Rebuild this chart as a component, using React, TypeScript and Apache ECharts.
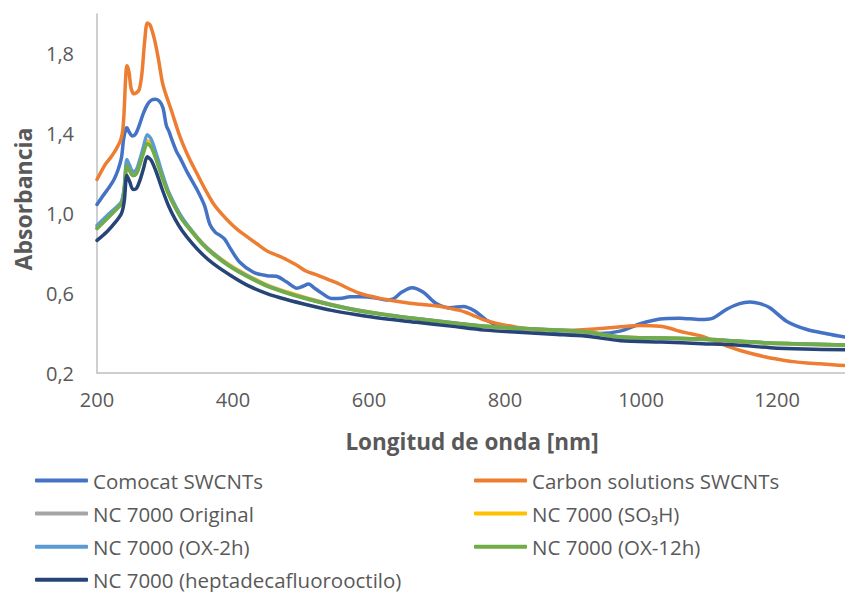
import React, { useEffect, useRef } from "react";
import * as echarts from "echarts";

const comocatNm = [200, 208, 217, 225, 231, 236, 239, 242, 244, 247, 252, 257, 262, 268, 274, 280, 286, 292, 297, 302, 306, 310, 317, 322, 332, 347, 358, 366, 374, 381, 388, 396, 410, 430, 450, 464, 479, 494, 503, 511, 520, 528, 545, 560, 572, 590, 610, 625, 635, 648, 663, 680, 699, 719, 739, 755, 773, 793, 817, 841, 891, 940, 969, 999, 1028, 1057, 1087, 1105, 1126, 1145, 1160, 1175, 1190, 1214, 1244, 1273, 1300];
const comocatAbs = [1.045, 1.085, 1.127, 1.17, 1.219, 1.28, 1.37, 1.42, 1.43, 1.41, 1.388, 1.4, 1.44, 1.5, 1.545, 1.568, 1.572, 1.562, 1.53, 1.44, 1.41, 1.371, 1.31, 1.28, 1.211, 1.12, 1.04, 0.945, 0.905, 0.89, 0.87, 0.825, 0.755, 0.705, 0.688, 0.685, 0.656, 0.625, 0.635, 0.646, 0.625, 0.606, 0.574, 0.575, 0.582, 0.582, 0.576, 0.566, 0.57, 0.605, 0.628, 0.605, 0.548, 0.527, 0.534, 0.512, 0.465, 0.435, 0.422, 0.418, 0.404, 0.398, 0.41, 0.447, 0.471, 0.475, 0.468, 0.474, 0.52, 0.548, 0.556, 0.548, 0.526, 0.46, 0.418, 0.397, 0.38];

const carbonNm = [200, 212, 220, 226, 231, 235, 238, 240, 242, 244, 247, 250, 254, 258, 262, 266, 270, 274, 278, 284, 290, 296, 300, 305, 310, 322, 335, 347, 360, 371, 384, 396, 408, 420, 435, 450, 465, 479, 494, 508, 525, 543, 557, 572, 586, 601, 616, 631, 645, 660, 675, 690, 704, 719, 732, 744, 756, 768, 781, 793, 817, 841, 866, 891, 915, 940, 970, 999, 1028, 1045, 1057, 1072, 1087, 1101, 1116, 1131, 1146, 1165, 1185, 1205, 1224, 1244, 1263, 1282, 1300];
const carbonAbs = [1.17, 1.245, 1.28, 1.31, 1.34, 1.37, 1.42, 1.52, 1.67, 1.74, 1.71, 1.63, 1.6, 1.605, 1.62, 1.7, 1.86, 1.955, 1.945, 1.88, 1.78, 1.66, 1.61, 1.56, 1.51, 1.385, 1.28, 1.2, 1.115, 1.05, 0.995, 0.952, 0.915, 0.885, 0.848, 0.812, 0.79, 0.768, 0.74, 0.71, 0.69, 0.665, 0.645, 0.62, 0.6, 0.586, 0.574, 0.565, 0.557, 0.55, 0.545, 0.54, 0.535, 0.524, 0.515, 0.502, 0.485, 0.468, 0.455, 0.445, 0.43, 0.418, 0.415, 0.414, 0.417, 0.423, 0.432, 0.438, 0.434, 0.422, 0.409, 0.398, 0.387, 0.37, 0.35, 0.33, 0.313, 0.295, 0.279, 0.267, 0.257, 0.25, 0.246, 0.241, 0.237];

const nc7000Nm = [200, 215, 228, 236, 240, 244, 248, 253, 258, 263, 268, 274, 280, 288, 296, 305, 315, 325, 340, 355, 371, 396, 420, 450, 480, 510, 545, 580, 620, 670, 720, 770, 820, 870, 920, 970, 1030, 1090, 1140, 1190, 1240, 1300];
const originalAbs = [0.925, 0.975, 1.02, 1.05, 1.115, 1.245, 1.215, 1.19, 1.2, 1.25, 1.305, 1.36, 1.34, 1.265, 1.185, 1.1, 1.03, 0.972, 0.907, 0.848, 0.798, 0.736, 0.689, 0.638, 0.603, 0.572, 0.541, 0.516, 0.494, 0.471, 0.451, 0.432, 0.422, 0.414, 0.403, 0.378, 0.373, 0.368, 0.358, 0.348, 0.343, 0.338];
const so3hAbs = [0.93, 0.98, 1.025, 1.055, 1.12, 1.25, 1.22, 1.195, 1.205, 1.255, 1.31, 1.365, 1.345, 1.27, 1.19, 1.107, 1.037, 0.977, 0.912, 0.852, 0.802, 0.74, 0.693, 0.642, 0.606, 0.575, 0.544, 0.518, 0.496, 0.473, 0.453, 0.434, 0.424, 0.416, 0.405, 0.38, 0.375, 0.37, 0.36, 0.35, 0.345, 0.34];
const ox2hAbs = [0.94, 0.99, 1.03, 1.06, 1.13, 1.27, 1.24, 1.21, 1.22, 1.27, 1.33, 1.395, 1.37, 1.29, 1.2, 1.11, 1.04, 0.98, 0.91, 0.85, 0.8, 0.735, 0.688, 0.638, 0.602, 0.572, 0.542, 0.517, 0.495, 0.473, 0.453, 0.435, 0.425, 0.417, 0.406, 0.381, 0.376, 0.371, 0.361, 0.351, 0.346, 0.341];
const ox12hAbs = [0.925, 0.975, 1.02, 1.05, 1.11, 1.24, 1.215, 1.19, 1.2, 1.245, 1.3, 1.35, 1.33, 1.26, 1.18, 1.1, 1.03, 0.97, 0.905, 0.845, 0.795, 0.732, 0.685, 0.635, 0.6, 0.57, 0.54, 0.515, 0.494, 0.472, 0.452, 0.434, 0.424, 0.416, 0.405, 0.38, 0.375, 0.37, 0.36, 0.35, 0.345, 0.34];
const heptaAbs = [0.865, 0.91, 0.96, 1.0, 1.06, 1.19, 1.16, 1.12, 1.125, 1.165, 1.22, 1.284, 1.265, 1.2, 1.12, 1.04, 0.97, 0.915, 0.85, 0.795, 0.748, 0.69, 0.642, 0.598, 0.567, 0.541, 0.514, 0.493, 0.473, 0.454, 0.435, 0.415, 0.404, 0.394, 0.384, 0.362, 0.355, 0.347, 0.34, 0.327, 0.32, 0.316];

const seriesNames = [
  "Comocat SWCNTs",
  "Carbon solutions SWCNTs",
  "NC 7000 Original",
  "NC 7000 (SO₃H)",
  "NC 7000 (OX-2h)",
  "NC 7000 (OX-12h)",
  "NC 7000 (heptadecafluorooctilo)",
];
const seriesColors = ["#4472C4", "#ED7D31", "#A5A5A5", "#FFC000", "#5B9BD5", "#70AD47", "#264478"];

const xTitle = "Longitud de onda [nm]";
const yTitle = "Absorbancia";

const FONT = "'Open Sans', 'Noto Sans', sans-serif";
const TEXT = "#595959";

function zip(xs: number[], ys: number[]) {
  return xs.map((x, i) => [x, ys[i]]);
}

export default function App() {
  const ref = useRef<HTMLDivElement>(null);
  useEffect(() => {
    if (!ref.current) return;
    const chart = echarts.init(ref.current, null, { renderer: "svg" });
    const seriesData = [
      zip(comocatNm, comocatAbs),
      zip(carbonNm, carbonAbs),
      zip(nc7000Nm, originalAbs),
      zip(nc7000Nm, so3hAbs),
      zip(nc7000Nm, ox2hAbs),
      zip(nc7000Nm, ox12hAbs),
      zip(nc7000Nm, heptaAbs),
    ];
    const legendText = { fontFamily: FONT, fontSize: 20.5, color: TEXT, lineHeight: 20 };
    const legendCommon = {
      orient: "vertical",
      top: 470,
      height: 122,
      padding: 0,
      icon: "roundRect",
      itemWidth: 53,
      itemHeight: 4,
      itemGap: 12.1,
      textStyle: legendText,
    };
    chart.setOption({
      animation: false,
      color: seriesColors,
      textStyle: { fontFamily: FONT },
      grid: { left: 97, right: 0, top: 14, bottom: 219, containLabel: false },
      legend: [
        {
          ...legendCommon,
          data: [seriesNames[0], seriesNames[2], seriesNames[4], seriesNames[6]],
          left: 35,
        },
        {
          ...legendCommon,
          data: [seriesNames[1], seriesNames[3], seriesNames[5]],
          left: 474,
        },
      ],
      graphic: [
        {
          type: "text",
          x: 23,
          y: 199,
          rotation: Math.PI / 2,
          style: {
            text: yTitle,
            align: "center",
            verticalAlign: "middle",
            font: `bold 23px ${FONT}`,
            fill: TEXT,
          },
        },
        {
          type: "text",
          x: 472,
          y: 441,
          style: {
            text: xTitle,
            align: "center",
            verticalAlign: "middle",
            font: `bold 22.5px ${FONT}`,
            fill: TEXT,
          },
        },
      ],
      xAxis: {
        type: "value",
        min: 200,
        max: 1300,
        interval: 200,
        axisLine: { show: true, lineStyle: { color: "#BFBFBF", width: 1.5 } },
        axisTick: { show: false },
        splitLine: { show: false },
        axisLabel: {
          showMaxLabel: false,
          margin: 16,
          fontFamily: FONT,
          fontSize: 20,
          color: TEXT,
          formatter: (v: number) => String(v),
        },
      },
      yAxis: {
        type: "value",
        min: 0.2,
        max: 2.0,
        interval: 0.4,
        axisLine: { show: true, lineStyle: { color: "#BFBFBF", width: 1.5 } },
        axisTick: { show: false },
        splitLine: { show: false },
        axisLabel: {
          showMaxLabel: false,
          margin: 23,
          fontFamily: FONT,
          fontSize: 20,
          color: TEXT,
          formatter: (v: number) => v.toFixed(1).replace(".", ","),
        },
      },
      series: seriesNames.map((name, i) => ({
        name,
        type: "line",
        data: seriesData[i],
        showSymbol: false,
        smooth: 0.3,
        lineStyle: { width: 3.5, color: seriesColors[i], cap: "round", join: "round" },
        itemStyle: { color: seriesColors[i] },
        z: 2 + i,
      })),
    });
    return () => chart.dispose();
  }, []);
  return (
    <div
      ref={ref}
      style={{ position: "fixed", left: 0, top: 0, width: 845, height: 592, background: "#fff" }}
    />
  );
}
